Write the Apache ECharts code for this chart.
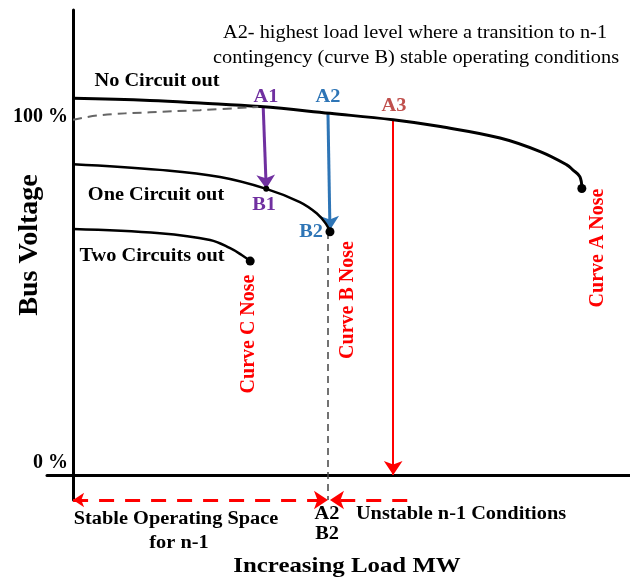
<!DOCTYPE html>
<html lang="en">
<head>
    <meta charset="UTF-8">
    <title>Bus Voltage vs Increasing Load</title>
    <script src="https://cdn.jsdelivr.net/npm/echarts@6/dist/echarts.min.js"></script>
    <style>
        html, body { margin: 0; padding: 0; background: #fff; }
    </style>
</head>
<body>
    <div id="main" style="width: 630px; height: 583px;"></div>
    <script>
        // curve A - no circuit out
        var loadA = [0, 15.3, 25.3, 37.3, 51.2, 63.8, 73.2, 85.1, 93.1, 98.4, 99.6, 101.0, 101.4];
        var voltA = [105.3, 104.7, 104.0, 103.0, 101.1, 99.3, 97.4, 94.2, 90.4, 86.7, 85.3, 83.4, 80.1];
        // dashed lead-in to 100 %
        var loadDash = [0, 5.4, 15.3, 25.3, 36.9];
        var voltDash = [99.3, 100.6, 101.4, 102.0, 102.9];
        // curve B - one circuit out
        var loadB = [0, 17.3, 29.3, 38.5, 45.2, 48.6, 50.4, 51.2];
        var voltB = [86.9, 85.3, 83.3, 80.0, 76.3, 73.1, 70.2, 68.0];
        // curve C - two circuits out
        var loadC = [0, 17.3, 27.3, 31.3, 33.6, 35.3];
        var voltC = [68.8, 67.6, 65.7, 63.4, 61.5, 59.8];

        // transitions A1->B1, A2->B2, A3 (to 0 %)
        var arrowA1 = [[37.9, 102.6], [38.5, 80.0]];
        var arrowA2 = [[50.8, 101.2], [51.2, 68.5]];
        var arrowA3 = [[63.8, 99.3], [63.8, 0]];
        var guideA2 = [[50.8, 67.9], [50.8, -7]];
        var stableSpan = [[0, -7], [50.8, -7]];
        var unstableSpan = [[66.6, -7], [51.2, -7]];
        var pointB1 = [38.5, 80.0];

        var tickValues = [0, 100];
        var tickLabels = ['0 %', '100 %'];

        var serif = '"Liberation Serif", "Times New Roman", serif';
        var purple = '#7030A0';
        var blue = '#2E75B6';
        var red = '#FF0000';

        function zip(xs, ys) {
            return xs.map(function (x, i) { return [x, ys[i]]; });
        }
        function last(xs, ys) {
            return [xs[xs.length - 1], ys[ys.length - 1]];
        }

        function txt(text, x, y, size, color, weight, extra) {
            var el = {
                type: 'text',
                x: x,
                y: y,
                scaleX: 1.13,
                style: {
                    text: text,
                    fill: color,
                    font: weight + ' ' + size + 'px ' + serif,
                    align: 'center',
                    verticalAlign: 'middle'
                }
            };
            if (extra) {
                for (var k in extra) el[k] = extra[k];
            }
            return el;
        }
        var up = { rotation: Math.PI / 2, scaleX: 1 };

        var chart = echarts.init(document.getElementById('main'));

        var option = {
            animation: false,
            grid: { left: 47, right: 0, top: 10, bottom: 83, containLabel: false, outerBoundsMode: 'none' },
            xAxis: {
                type: 'value',
                min: -5.2,
                max: 111,
                axisLine: { onZero: true, lineStyle: { color: '#000', width: 3 } },
                axisTick: { show: false },
                axisLabel: { show: false },
                splitLine: { show: false }
            },
            yAxis: {
                type: 'value',
                min: -7,
                max: 130,
                axisLine: { onZero: true, lineStyle: { color: '#000', width: 3 } },
                axisTick: { show: false },
                splitLine: { show: false },
                axisLabel: {
                    customValues: tickValues,
                    // labels sit at the grid edge, pull them over to the y axis
                    margin: -21,
                    color: '#000',
                    fontFamily: serif,
                    fontWeight: 'bold',
                    fontSize: 20,
                    lineHeight: 24,
                    formatter: function (v) {
                        var s = tickLabels[tickValues.indexOf(v)];
                        return v === 0 ? s + '\n ' : s;
                    }
                }
            },
            series: [
                {
                    name: 'No Circuit out', type: 'line', smooth: 0.4, showSymbol: false,
                    lineStyle: { color: '#000', width: 3 }, data: zip(loadA, voltA)
                },
                {
                    name: 'lead', type: 'line', smooth: 0.4, showSymbol: false,
                    lineStyle: { color: '#666', width: 2, type: [9, 6] }, data: zip(loadDash, voltDash)
                },
                {
                    name: 'One Circuit out', type: 'line', smooth: 0.4, showSymbol: false,
                    lineStyle: { color: '#000', width: 2.5 }, data: zip(loadB, voltB)
                },
                {
                    name: 'Two Circuits out', type: 'line', smooth: 0.4, showSymbol: false,
                    lineStyle: { color: '#000', width: 2.5 }, data: zip(loadC, voltC)
                },
                {
                    name: 'noses', type: 'scatter', symbolSize: 9,
                    itemStyle: { color: '#000', opacity: 1 },
                    data: [last(loadA, voltA), last(loadB, voltB), last(loadC, voltC)]
                },
                {
                    name: 'B1', type: 'scatter', symbolSize: 6,
                    itemStyle: { color: '#000', opacity: 1 }, data: [pointB1]
                },
                {
                    type: 'lines', coordinateSystem: 'cartesian2d', clip: false,
                    symbol: ['none', 'none'],
                    lineStyle: { color: '#444', width: 1.5, type: [7, 5], opacity: 1 },
                    data: [{ coords: guideA2 }]
                },
                {
                    type: 'lines', coordinateSystem: 'cartesian2d', clip: false,
                    symbol: ['none', 'arrow'], symbolSize: [11, 14],
                    lineStyle: { width: 3, opacity: 1 },
                    data: [
                        { coords: arrowA1, lineStyle: { color: purple } },
                        { coords: arrowA2, lineStyle: { color: blue } }
                    ]
                },
                {
                    type: 'lines', coordinateSystem: 'cartesian2d', clip: false,
                    symbol: ['none', 'arrow'], symbolSize: [10, 14],
                    lineStyle: { color: red, width: 2, opacity: 1 },
                    data: [{ coords: arrowA3 }]
                },
                {
                    type: 'lines', coordinateSystem: 'cartesian2d', clip: false,
                    symbol: ['arrow', 'arrow'], symbolSize: [11, 14],
                    lineStyle: { color: red, width: 3, type: [15, 11], opacity: 1 },
                    data: [{ coords: stableSpan }]
                },
                {
                    type: 'lines', coordinateSystem: 'cartesian2d', clip: false,
                    symbol: ['none', 'arrow'], symbolSize: [11, 14],
                    lineStyle: { color: red, width: 3, type: [15, 11], opacity: 1 },
                    data: [{ coords: unstableSpan }]
                }
            ],
            graphic: [
                txt('A2- highest load level where a transition to n-1', 415, 33, 18, '#000', 'normal'),
                txt('contingency (curve B) stable operating conditions', 416, 58, 18, '#000', 'normal'),
                txt('No Circuit out', 157, 81, 18, '#000', 'bold'),
                txt('One Circuit out', 156, 195, 18, '#000', 'bold'),
                txt('Two Circuits out', 152, 256, 18, '#000', 'bold'),
                txt('A1', 266, 97, 18, purple, 'bold'),
                txt('B1', 264, 205, 18, purple, 'bold'),
                txt('A2', 328, 97, 18, blue, 'bold'),
                txt('B2', 311, 232, 18, blue, 'bold'),
                txt('A3', 394, 106, 18, '#C0504D', 'bold'),
                txt('Curve A Nose', 598, 248, 20, red, 'bold', up),
                txt('Curve B Nose', 348, 300, 20, red, 'bold', up),
                txt('Curve C Nose', 249, 334, 20, red, 'bold', up),
                txt('Bus Voltage', 30, 245, 28, '#000', 'bold', up),
                txt('Stable Operating Space', 176, 519, 18, '#000', 'bold'),
                txt('for n-1', 179, 543, 18, '#000', 'bold'),
                txt('A2', 327, 514, 18, '#000', 'bold'),
                txt('B2', 327, 534, 18, '#000', 'bold'),
                txt('Unstable n-1 Conditions', 461, 514, 18, '#000', 'bold'),
                txt('Increasing Load MW', 347, 566, 22, '#000', 'bold')
            ]
        };

        chart.setOption(option);
    </script>
</body>
</html>
